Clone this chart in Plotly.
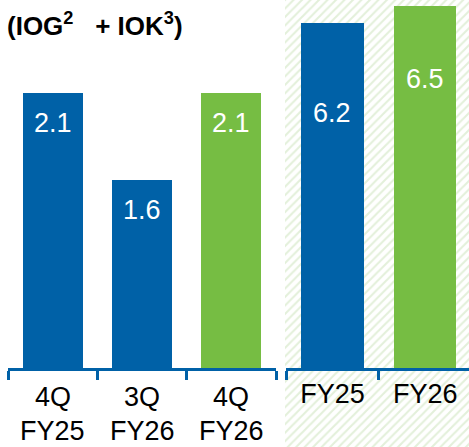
import plotly.graph_objects as go

# ---- data ----
quarter_period = ["4Q", "3Q", "4Q"]
quarter_year = ["FY25", "FY26", "FY26"]
quarter_values = [2.1, 1.6, 2.1]
year_labels = ["FY25", "FY26"]
year_values = [6.2, 6.5]
title_text = "(IOG<sup>2</sup>&nbsp;&nbsp; + IOK<sup>3</sup>)"

# ---- styles ----
BLUE = "#0061a7"
GREEN = "#76bd43"
HATCH = "#c8e1b6"
quarter_colors = [BLUE, BLUE, GREEN]
year_colors = [BLUE, GREEN]
quarter_label_shift = [-30, -30, -30]
year_label_shift = [-90, -73]
FONT = "Liberation Sans, Arial, sans-serif"

W, H = 469, 447
axis_y = (H - 368) / H
quarter_cats = [f"{p} {y}" for p, y in zip(quarter_period, quarter_year)]

fig = go.Figure()

# hatched background for the annual panel (first subplot, drawn underneath)
fig.add_trace(go.Bar(
    x=[0.5], y=[1], width=[1], base=[0],
    marker=dict(color="white", line=dict(width=0),
                pattern=dict(shape="/", fgcolor=HATCH, bgcolor="white",
                             size=6, solidity=0.35)),
    xaxis="x", yaxis="y", hoverinfo="skip", showlegend=False,
))

# quarterly bars
fig.add_trace(go.Bar(
    x=quarter_cats, y=quarter_values, width=0.67,
    marker=dict(color=quarter_colors, line=dict(width=0)),
    xaxis="x2", yaxis="y2", showlegend=False,
))

# annual bars
fig.add_trace(go.Bar(
    x=year_labels, y=year_values, width=0.67,
    marker=dict(color=year_colors, line=dict(width=0)),
    xaxis="x3", yaxis="y3", showlegend=False,
))

annotations = []
for cat, v, s in zip(quarter_cats, quarter_values, quarter_label_shift):
    annotations.append(dict(x=cat, y=v, xref="x2", yref="y2", text=f"{v:.1f}",
                            showarrow=False, yshift=s, yanchor="middle",
                            font=dict(family=FONT, size=27, color="white")))
for lab, v, s in zip(year_labels, year_values, year_label_shift):
    annotations.append(dict(x=lab, y=v, xref="x3", yref="y3", text=f"{v:.1f}",
                            showarrow=False, yshift=s, yanchor="middle",
                            font=dict(family=FONT, size=27, color="white")))
# two-line category labels of the quarterly panel
for cat, p, y in zip(quarter_cats, quarter_period, quarter_year):
    annotations.append(dict(x=cat, y=1 - 397 / H, xref="x2", yref="paper", text=p,
                            showarrow=False, yanchor="middle",
                            font=dict(family=FONT, size=27, color="black")))
    annotations.append(dict(x=cat, y=1 - 431 / H, xref="x2", yref="paper", text=y,
                            showarrow=False, yanchor="middle",
                            font=dict(family=FONT, size=27, color="black")))
annotations.append(dict(x=5 / W, y=1 - 25 / H, xref="paper", yref="paper",
                        xanchor="left", yanchor="middle", showarrow=False,
                        text=f"<b>{title_text}</b>",
                        font=dict(family=FONT, size=26, color="black")))

cat_axis = dict(showline=True, linecolor=BLUE, linewidth=3, ticks="outside",
                tickcolor=BLUE, tickwidth=3, ticklen=9, tickson="boundaries",
                showgrid=False, zeroline=False, fixedrange=True,
                tickfont=dict(family=FONT, size=27, color="black"))

fig.update_layout(
    width=W, height=H,
    margin=dict(l=0, r=0, t=0, b=0),
    paper_bgcolor="white", plot_bgcolor="rgba(0,0,0,0)",
    barmode="overlay", bargap=0,
    xaxis=dict(domain=[285 / W, 1], range=[0, 1], visible=False, fixedrange=True),
    yaxis=dict(domain=[0, 1], range=[0, 1], visible=False, fixedrange=True),
    xaxis2=dict(domain=[8 / W, 276 / W], range=[-0.5, 2.5], anchor="y2",
                showticklabels=False, **cat_axis),
    yaxis2=dict(domain=[axis_y, 1], range=[0.52, 2.634], anchor="x2", visible=False),
    xaxis3=dict(domain=[286 / W, 1], range=[-0.5, 1.47], anchor="y3", **cat_axis),
    yaxis3=dict(domain=[axis_y, 1], range=[0, 6.607], anchor="x3", visible=False),
    annotations=annotations,
)

fig.write_html("out.html", config={"displayModeBar": False},
               post_script="document.body.style.margin='0';document.body.style.overflow='hidden';")
